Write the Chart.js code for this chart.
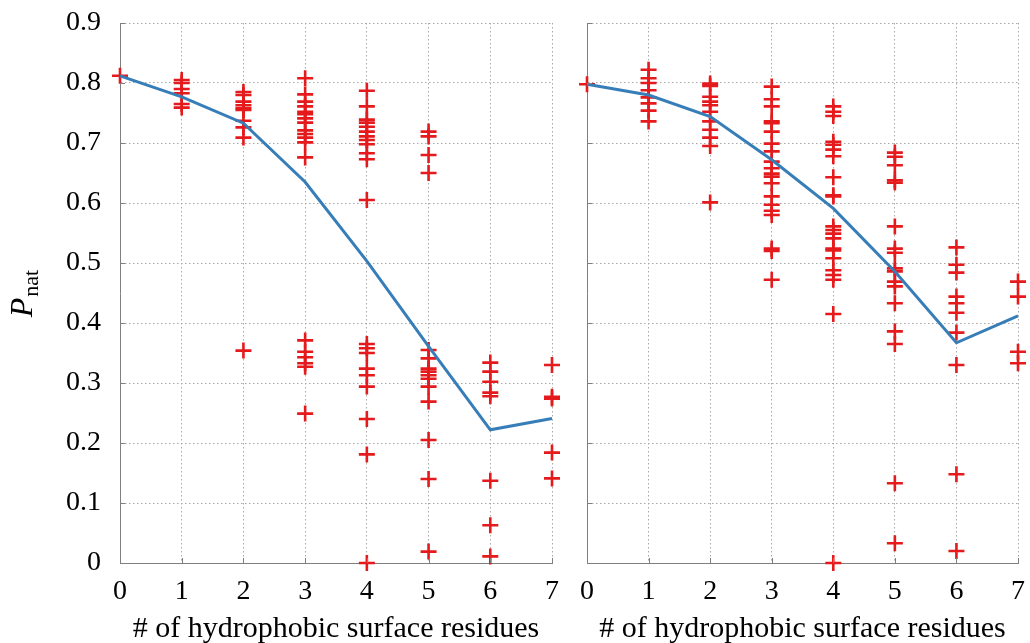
<!DOCTYPE html>
<html>
<head>
<meta charset="utf-8">
<script src="https://cdn.jsdelivr.net/npm/chart.js@4/dist/chart.umd.min.js"></script>
<style>
  body { margin: 0; background: #fff; }
  #wrap { position: relative; width: 1030px; height: 643px; }
  #left { position: absolute; left: 0; top: 0; }
  #right { position: absolute; left: 570px; top: 0; }
</style>
</head>
<body>
<div id="wrap">
  <canvas id="left" width="570" height="643"></canvas>
  <canvas id="right" width="460" height="643"></canvas>
</div>
<script>
// number of hydrophobic surface residues (x categories)
var residues = [0, 1, 2, 3, 4, 5, 6, 7];
var yTicks = [0, 0.1, 0.2, 0.3, 0.4, 0.5, 0.6, 0.7, 0.8, 0.9];

// left panel: individual runs for each residue count
var leftRuns = [
	[0.812],
	[0.805, 0.80, 0.79, 0.783, 0.765, 0.759],
	[0.785, 0.78, 0.769, 0.763, 0.758, 0.755, 0.737, 0.726, 0.709, 0.354],
	[0.808, 0.781, 0.769, 0.761, 0.752, 0.748, 0.741, 0.734, 0.721, 0.715, 0.709, 0.701, 0.676, 0.371, 0.352, 0.343, 0.333, 0.327, 0.249],
	[0.787, 0.761, 0.739, 0.734, 0.727, 0.719, 0.711, 0.705, 0.698, 0.683, 0.673, 0.605, 0.365, 0.358, 0.350, 0.324, 0.313, 0.294, 0.240, 0.181, 0.0],
	[0.719, 0.711, 0.680, 0.650, 0.355, 0.341, 0.324, 0.319, 0.313, 0.307, 0.294, 0.269, 0.205, 0.140, 0.019],
	[0.334, 0.319, 0.302, 0.284, 0.278, 0.137, 0.063, 0.011],
	[0.330, 0.277, 0.274, 0.184, 0.141]
];
var leftMean = [0.812, 0.777, 0.733, 0.635, 0.503, 0.361, 0.222, 0.241];

// right panel
var rightRuns = [
	[0.798],
	[0.822, 0.808, 0.800, 0.788, 0.776, 0.766, 0.754, 0.736],
	[0.799, 0.795, 0.777, 0.769, 0.763, 0.752, 0.736, 0.722, 0.709, 0.695, 0.601],
	[0.794, 0.773, 0.761, 0.736, 0.733, 0.719, 0.699, 0.686, 0.669, 0.658, 0.649, 0.644, 0.633, 0.611, 0.597, 0.587, 0.580, 0.524, 0.520, 0.472],
	[0.761, 0.752, 0.745, 0.702, 0.697, 0.689, 0.678, 0.643, 0.613, 0.611, 0.561, 0.555, 0.549, 0.541, 0.524, 0.521, 0.508, 0.488, 0.480, 0.472, 0.415, 0.0],
	[0.684, 0.677, 0.663, 0.638, 0.634, 0.561, 0.524, 0.517, 0.491, 0.486, 0.469, 0.461, 0.433, 0.386, 0.365, 0.133, 0.033],
	[0.526, 0.497, 0.484, 0.444, 0.433, 0.417, 0.384, 0.330, 0.148, 0.020],
	[0.469, 0.444, 0.352, 0.333]
];
var rightMean = [0.798, 0.780, 0.744, 0.672, 0.591, 0.486, 0.367, 0.412];

var xTitle = '# of hydrophobic surface residues';
var serif = "'Liberation Serif', 'DejaVu Serif', serif";
var red = '#e41a1c';
var blue = '#377eb8';

function toPoints(runs) {
	var pts = [];
	runs.forEach(function (vals, i) {
		vals.forEach(function (v) { pts.push({x: residues[i], y: v}); });
	});
	return pts;
}

function toLine(mean) {
	return mean.map(function (v, i) { return {x: residues[i], y: v}; });
}

// titles and inward tick marks, pgfplots style
var decor = {
	id: 'decor',
	afterDraw: function (chart, args, opts) {
		var ctx = chart.ctx;
		var area = chart.chartArea;
		var xs = chart.scales.x, ys = chart.scales.y;
		ctx.save();
		ctx.strokeStyle = '#7f7f7f';
		ctx.lineWidth = 1;
		ctx.beginPath();
		residues.forEach(function (r) {
			var px = Math.round(xs.getPixelForValue(r)) + 0.5;
			ctx.moveTo(px, area.bottom);
			ctx.lineTo(px, area.bottom - 5);
		});
		yTicks.forEach(function (t) {
			var py = Math.round(ys.getPixelForValue(t)) + 0.5;
			ctx.moveTo(area.left, py);
			ctx.lineTo(area.left + 5, py);
		});
		ctx.stroke();

		ctx.fillStyle = '#000';
		ctx.textAlign = 'center';
		ctx.textBaseline = 'middle';
		ctx.font = '30px ' + serif;
		ctx.fillText(xTitle, (area.left + area.right) / 2, 629);

		if (opts.yLabel) {
			// P with subscript "nat", rotated
			ctx.translate(28, 294);
			ctx.rotate(-Math.PI / 2);
			ctx.font = 'italic 32px ' + serif;
			var w1 = ctx.measureText('P').width;
			ctx.font = '22px ' + serif;
			var w2 = ctx.measureText('nat').width;
			var x0 = -(w1 + w2) / 2;
			ctx.textAlign = 'left';
			ctx.textBaseline = 'alphabetic';
			ctx.font = 'italic 32px ' + serif;
			ctx.fillText('P', x0, 4);
			ctx.font = '22px ' + serif;
			ctx.fillText('nat', x0 + w1 + 1, 10);
		}
		ctx.restore();
	}
};

function makePanel(id, runs, mean, showY, yWidth, padRight) {
	var ctx = document.getElementById(id).getContext('2d');
	return new Chart(ctx, {
		type: 'scatter',
		data: {
			datasets: [{
				type: 'line',
				data: toLine(mean),
				borderColor: blue,
				borderWidth: 3,
				pointRadius: 0,
				fill: false,
				tension: 0,
				clip: false
			}, {
				data: toPoints(runs),
				pointStyle: 'cross',
				pointRadius: 8,
				pointBorderWidth: 2.6,
				borderColor: red,
				backgroundColor: red,
				clip: false
			}]
		},
		options: {
			responsive: false,
			animation: false,
			events: [],
			layout: {padding: {top: 23, right: padRight, left: 0, bottom: 0}},
			plugins: {
				legend: {display: false},
				tooltip: {enabled: false},
				decor: {yLabel: showY}
			},
			scales: {
				x: {
					type: 'linear',
					min: 0,
					max: 7,
					ticks: {stepSize: 1, color: '#000', padding: 12, font: {family: serif, size: 28}},
					grid: {color: '#a8a8a8', lineWidth: 1, drawTicks: false},
					border: {color: '#7f7f7f', width: 1, dash: [1.5, 2.5]},
					afterFit: function (s) {
						s.height = 80;
						s.paddingLeft = 0;
						s.paddingRight = 0;
					}
				},
				y: {
					min: 0,
					max: 0.9,
					afterBuildTicks: function (s) { s.ticks = yTicks.map(function (v) { return {value: v}; }); },
					ticks: {display: showY, color: '#000', padding: 19, font: {family: serif, size: 28}},
					grid: {color: '#a8a8a8', lineWidth: 1, drawTicks: false},
					border: {color: '#7f7f7f', width: 1, dash: [1.5, 2.5]},
					afterFit: function (s) {
						s.width = yWidth;
						s.paddingTop = 0;
						s.paddingBottom = 0;
					}
				}
			}
		},
		plugins: [decor]
	});
}

makePanel('left', leftRuns, leftMean, true, 120, 18);
makePanel('right', rightRuns, rightMean, false, 17, 12);
</script>
</body>
</html>
